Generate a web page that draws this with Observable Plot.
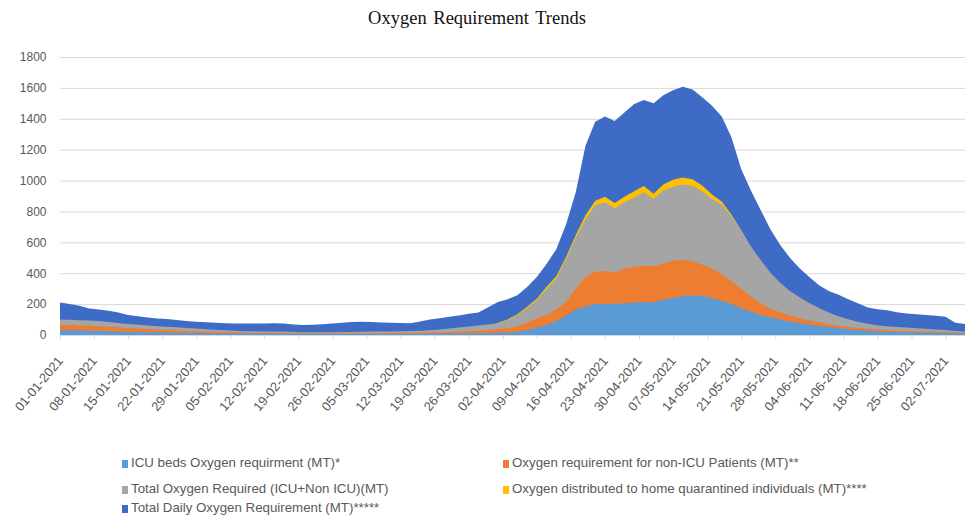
<!DOCTYPE html>
<html><head><meta charset="utf-8">
<script src="https://cdn.jsdelivr.net/npm/d3@7"></script>
<script src="https://cdn.jsdelivr.net/npm/@observablehq/plot@0.6"></script>
<style>
body{margin:0;background:#fff;}
#wrap{position:relative;width:971px;height:520px;overflow:hidden;background:#fff;}
#title{position:absolute;top:8px;left:0;width:954px;text-align:center;font-family:"Liberation Serif","Times New Roman",serif;font-size:18.5px;color:#111;word-spacing:2px;}
#chart{position:absolute;top:0;left:0;}
.leg{position:absolute;font-family:"Liberation Sans",Arial,sans-serif;font-size:13.3px;color:#595959;white-space:nowrap;line-height:15px;}
.leg i{display:inline-block;width:6px;height:8px;margin-right:3px;vertical-align:-1px;}
</style>
</head><body>
<div id="wrap">
  <div id="chart"></div>
  <div id="title">Oxygen Requirement Trends</div>
  <div id="legend"></div>
</div>
<script>
// Readings every 2 days, 01-01-2021 .. 06-07-2021
const startDate = "2021-01-01";
const endDate = "2021-07-08";
const stepDays = 2;

const seriesNames = [
  "ICU beds Oxygen requirment (MT)*",
  "Oxygen requirement for non-ICU Patients (MT)**",
  "Total Oxygen Required (ICU+Non ICU)(MT)",
  "Oxygen distributed to home quarantined individuals (MT)****",
  "Total Daily Oxygen Requirement (MT)*****"
];
const seriesColors = ["#5b9bd5", "#ed7d31", "#a5a5a5", "#ffc000", "#3d6bc6"];

const icuBeds = [32,31,30,28,27,25,23,21,20,18,17,16,15,14,13,12,11,10,10,9,9,8,8,7,7,7,6,6,6,6,6,6,6,6,7,7,7,8,8,9,9,10,11,12,13,14,16,20,32,48,65,90,125,165,185,200,201,202,205,210,212,212,228,240,253,255,252,240,222,200,175,150,130,115,102,88,77,68,60,52,45,38,33,28,24,21,19,17,16,15,14,13,12,11];
const nonIcu = [65,64,62,60,57,54,50,46,42,39,36,33,30,27,24,22,20,18,17,16,15,14,14,13,12,12,11,11,11,11,11,12,12,12,13,13,14,15,16,17,19,21,24,27,31,36,44,55,80,108,130,165,215,300,375,410,415,405,430,440,448,445,465,480,488,477,455,430,395,350,300,250,205,172,147,126,110,96,82,70,60,52,46,40,35,31,28,26,24,22,21,20,18,17];
const totalRequired = [100,98,96,94,90,84,78,72,66,61,57,53,50,46,42,38,34,30,27,25,24,23,22,22,20,18,17,17,18,19,20,21,22,22,23,24,26,28,31,36,42,48,55,62,68,76,95,128,175,225,300,365,490,630,750,840,860,820,860,890,925,880,935,960,975,965,930,880,845,770,680,575,485,405,338,285,245,208,175,146,122,102,86,73,63,57,52,48,44,40,36,32,26,22];
const homeQuarantine = [8,8,8,7,7,7,7,6,6,6,6,6,5,5,5,5,5,5,5,5,5,5,5,5,5,5,5,5,5,5,5,5,5,5,5,5,6,8,10,12,15,18,22,26,30,80,100,135,183,235,312,380,505,648,775,870,895,855,895,930,965,915,975,1005,1020,1008,968,910,865,780,680,560,470,392,325,272,232,196,163,135,114,95,80,67,58,52,47,43,39,35,31,28,23,19];
const totalDaily = [210,200,190,172,165,157,145,130,122,113,107,103,97,91,86,82,79,76,75,75,75,75,76,75,68,65,66,70,74,80,84,86,84,81,80,78,76,88,100,108,118,126,138,146,180,214,232,258,310,375,460,556,715,924,1225,1380,1415,1385,1440,1495,1522,1500,1552,1585,1608,1590,1540,1485,1415,1280,1075,935,810,685,585,500,432,375,322,285,260,232,205,178,166,160,148,140,135,130,124,118,80,72];

const yTicks = [0,200,400,600,800,1000,1200,1400,1600,1800];

const dates = d3.utcDay.range(new Date(startDate), new Date(endDate), stepDays);
const xTicks = d3.utcDay.range(new Date(startDate), new Date(endDate), 7);
const allSeries = [icuBeds, nonIcu, totalRequired, homeQuarantine, totalDaily];

const rows = [];
allSeries.forEach((vals, si) => {
  vals.forEach((v, i) => { if (i < dates.length) rows.push({date: dates[i], value: v, series: seriesNames[si]}); });
});

// draw back-to-front: last series behind
const areaMarks = [4,3,2,1,0].map(si =>
  Plot.areaY(rows.filter(d => d.series === seriesNames[si]), {x: "date", y: "value", fill: seriesColors[si], curve: "linear"})
);

const chart = Plot.plot({
  width: 971,
  height: 430,
  marginTop: 57,
  marginBottom: 95,
  marginLeft: 60,
  marginRight: 6,
  style: {fontFamily: "Liberation Sans, Arial, sans-serif", fontSize: "12px", background: "transparent"},
  x: {type: "utc", domain: [dates[0], dates[dates.length - 1]]},
  y: {domain: [0, 1800]},
  marks: [
    Plot.gridY(yTicks, {stroke: "#d9d9d9", strokeOpacity: 1}),
    ...areaMarks,
    Plot.ruleY([0], {stroke: "#d9d9d9"}),
    Plot.axisY({ticks: yTicks, tickFormat: d => String(d), tickSize: 0, tickPadding: 14, fill: "#595959", fontSize: 12, label: null}),
    Plot.axisX({ticks: xTicks, tickFormat: d3.utcFormat("%d-%m-%Y"), tickRotate: -50, tickSize: 4, tickPadding: 19, stroke: "#d9d9d9", fill: "#595959", fontSize: 13, label: null})
  ]
});
document.getElementById("chart").appendChild(chart);

// legend
const legendPos = [
  {left: 122, top: 455},
  {left: 503, top: 455},
  {left: 122, top: 481},
  {left: 503, top: 481},
  {left: 122, top: 500}
];
const leg = document.getElementById("legend");
seriesNames.forEach((name, i) => {
  const d = document.createElement("div");
  d.className = "leg";
  d.style.left = legendPos[i].left + "px";
  d.style.top = legendPos[i].top + "px";
  const sw = document.createElement("i");
  sw.style.background = seriesColors[i];
  d.appendChild(sw);
  d.appendChild(document.createTextNode(name));
  leg.appendChild(d);
});
</script>
</body></html>
